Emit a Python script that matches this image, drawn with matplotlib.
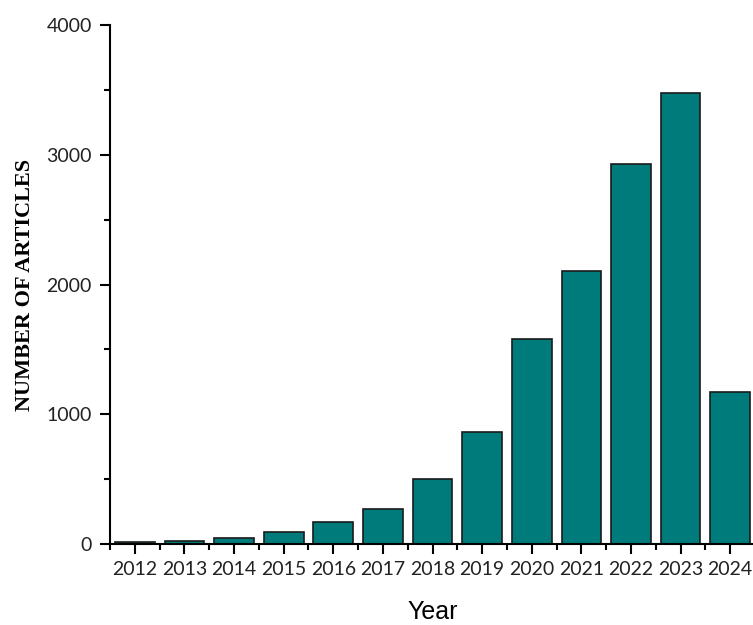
import matplotlib
matplotlib.use("Agg")
import matplotlib.pyplot as plt
from matplotlib.ticker import MultipleLocator

# articles per year
years = [2012, 2013, 2014, 2015, 2016, 2017, 2018, 2019, 2020, 2021, 2022, 2023, 2024]
articles = [12, 25, 48, 90, 172, 269, 498, 860, 1577, 2102, 2928, 3474, 1175]

bar_color = '#007b7b'

fig = plt.figure(figsize=(7.53, 6.25), dpi=100)
# axes runs a touch past the right edge, like the original
ax = fig.add_axes([110 / 753, 81 / 625, 645 / 753, 519 / 625])

ax.bar(years, articles, width=0.8, color=bar_color, edgecolor='#1a1a1a', linewidth=1.2)

ax.set_xlim(2011.5, 2024.5)
ax.set_ylim(0, 4000)
ax.set_xticks(years)
ax.set_xticklabels([str(y) for y in years])
ax.xaxis.set_minor_locator(MultipleLocator(1, offset=0.5))
ax.yaxis.set_major_locator(MultipleLocator(1000))
ax.yaxis.set_minor_locator(MultipleLocator(500))

for s in ['top', 'right']:
    ax.spines[s].set_visible(False)
for s in ['left', 'bottom']:
    ax.spines[s].set_linewidth(1.5)

ax.tick_params(which='major', direction='out', length=7, width=1.5, labelsize=14,
               labelcolor='#222222')
ax.tick_params(which='minor', direction='out', length=4, width=1.5)
for lab in ax.get_xticklabels() + ax.get_yticklabels():
    lab.set_family('Lato')
ax.tick_params(axis='x', pad=5)
ax.tick_params(axis='y', pad=6)

ax.set_xlabel('Year', family='Liberation Sans', fontsize=18, labelpad=16)
ax.set_ylabel('NUMBER OF ARTICLES', family='Liberation Serif', fontweight='bold',
              fontsize=16)
ax.yaxis.set_label_coords(-0.116, 0.5)

fig.savefig('out.png', dpi=100)
